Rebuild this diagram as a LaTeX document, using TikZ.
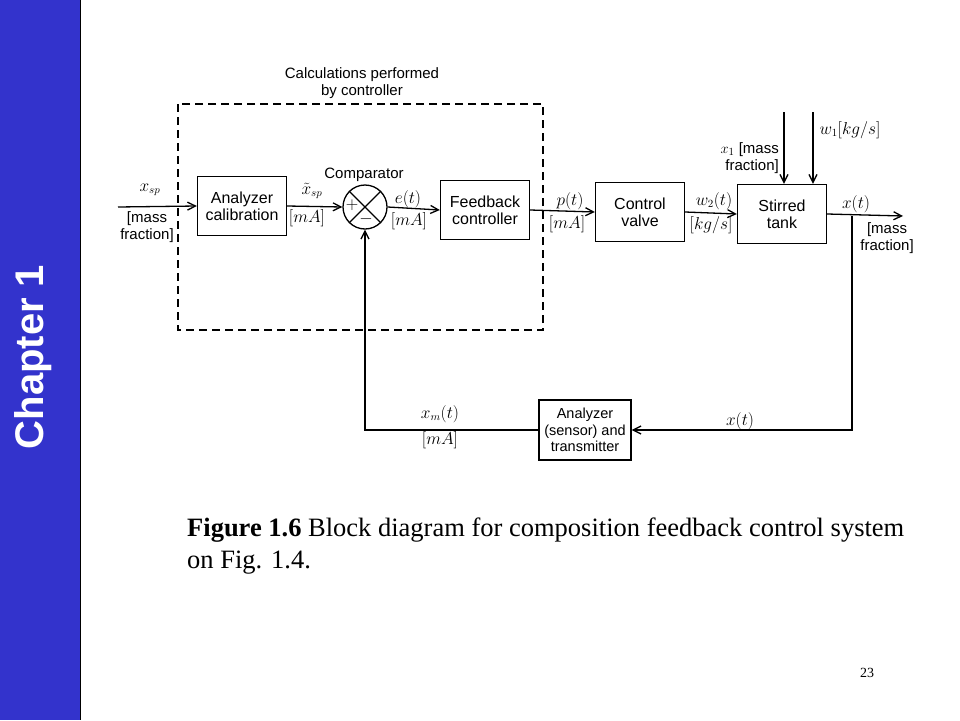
\documentclass[tikz,border=0pt]{standalone}
\usepackage{fontspec}
\setsansfont{Liberation Sans}
\newfontfamily\capfont{Liberation Serif}
\usetikzlibrary{arrows.meta}

\definecolor{barblue}{RGB}{51,51,204}

\begin{document}
\begin{tikzpicture}[x=1pt, y=-1pt,
    block/.style={draw, line width=1.3pt, minimum width=89pt, minimum height=59pt,
        align=center, inner sep=0pt, font=\sffamily\fontsize{16}{17}\selectfont},
    lbl/.style={inner sep=0pt, font=\fontsize{16}{17}\selectfont},
    txt/.style={inner sep=0pt, align=center, font=\sffamily\fontsize{15}{17}\selectfont},
    sig/.style={line width=1.3pt, -{Straight Barb[length=8pt, width=8pt]}}]

                \useasboundingbox (0,0) rectangle (960,720);

                % side bar
                \fill[barblue] (0,0) rectangle (80,720);
                \draw (80,0) -- (80,720);
                \node[rotate=90, text=white, font=\sffamily\bfseries\fontsize{40}{42}\selectfont] (chap) at (33,357) {Chapter 1};

                % controller boundary
                \draw[line width=1.1pt, dash pattern=on 8pt off 5pt] (178,104) rectangle (543,330);
                \node[txt] (calc) at (362,83) {Calculations performed\\by controller};

                \node[block] (calib) at (242,206) {Analyzer\\calibration};

                \node[draw, circle, line width=1.3pt, minimum size=44pt, inner sep=0pt] (comp) at (365,207) {};
                \draw[line width=1.1pt] (comp.north west) -- (comp.south east);
                \draw[line width=1.1pt] (comp.north east) -- (comp.south west);
                \node[lbl] (plus) at (352,205) {$+$};
                \node[lbl] (minus) at (366,219) {$-$};
                \node[txt] (complbl) at (364,175) {Comparator};

                \node[block] (ctrl) at (485,210) {Feedback\\controller};
                \node[block] (valve) at (640,212) {Control\\valve};
                \node[block] (tank) at (782,214) {Stirred\\tank};
                \node[block, minimum width=92pt, minimum height=60pt, font=\sffamily\fontsize{14.5}{16.5}\selectfont] (sensor) at (585,430) {Analyzer\\(sensor) and\\transmitter};

                \coordinate (in) at (118,207);
                \coordinate (out) at (903,216);
                \coordinate (branch) at (852,216);
                \coordinate (d1) at (784,112);
                \coordinate (d2) at (813,112);

                \draw[sig] (in) -- (calib.west);
                \draw[sig] (calib.east) -- (comp.west);
                \draw[sig] (comp.east) -- (ctrl.west);
                \draw[sig] (ctrl.east) -- (valve.west);
                \draw[sig] (valve.east) -- (tank.west);
                \draw[sig] (tank.east) -- (out);
                \draw[sig] (d1) -- (d1 |- tank.north);
                \draw[sig] (d2) -- (d2 |- tank.north);
                \draw[sig] (branch) |- (sensor.east);
                \draw[sig] (sensor.west) -| (comp.south);

                % signal labels
                \node[lbl] (xsp) at (150,190) {$x_{sp}$};
                \node[txt] (xspunit) at (147,227) {[mass\\fraction]};
                \node[lbl] (xtsp) at (312,191) {$\tilde{x}_{sp}$};
                \node[lbl] (xtspunit) at (307,218) {$[mA]$};
                \node[lbl] (e) at (408,199) {$e(t)$};
                \node[lbl] (eunit) at (409,221) {$[mA]$};
                \node[lbl] (p) at (570,201) {$p(t)$};
                \node[lbl] (punit) at (567,224) {$[mA]$};
                \node[lbl] (w2) at (714,201) {$w_2(t)$};
                \node[lbl] (w2unit) at (711,225) {$[kg/s]$};
                \node[lbl] (x) at (856,204) {$x(t)$};
                \node[txt] (xunit) at (887,238) {[mass\\fraction]};
                \node[txt, anchor=east, align=right] (x1) at (779,158) {$x_1$ [mass\\fraction]};
                \node[lbl] (w1) at (850,130) {$w_1[kg/s]$};
                \node[lbl] (xfb) at (740,421) {$x(t)$};
                \node[lbl] (xm) at (440,414) {$x_m(t)$};
                \node[lbl] (xmunit) at (440,440) {$[mA]$};

                % caption
                \node[anchor=north west, align=left, inner sep=0pt, font=\capfont\fontsize{26.5}{32}\selectfont] (cap) at (187,518)
                    {{\bfseries Figure 1.6} Block diagram for composition feedback control system\\on Fig. 1.4.};
                \node[font=\capfont\fontsize{14}{16}\selectfont] (page) at (867,673) {23};
            \end{tikzpicture}
\end{document}
